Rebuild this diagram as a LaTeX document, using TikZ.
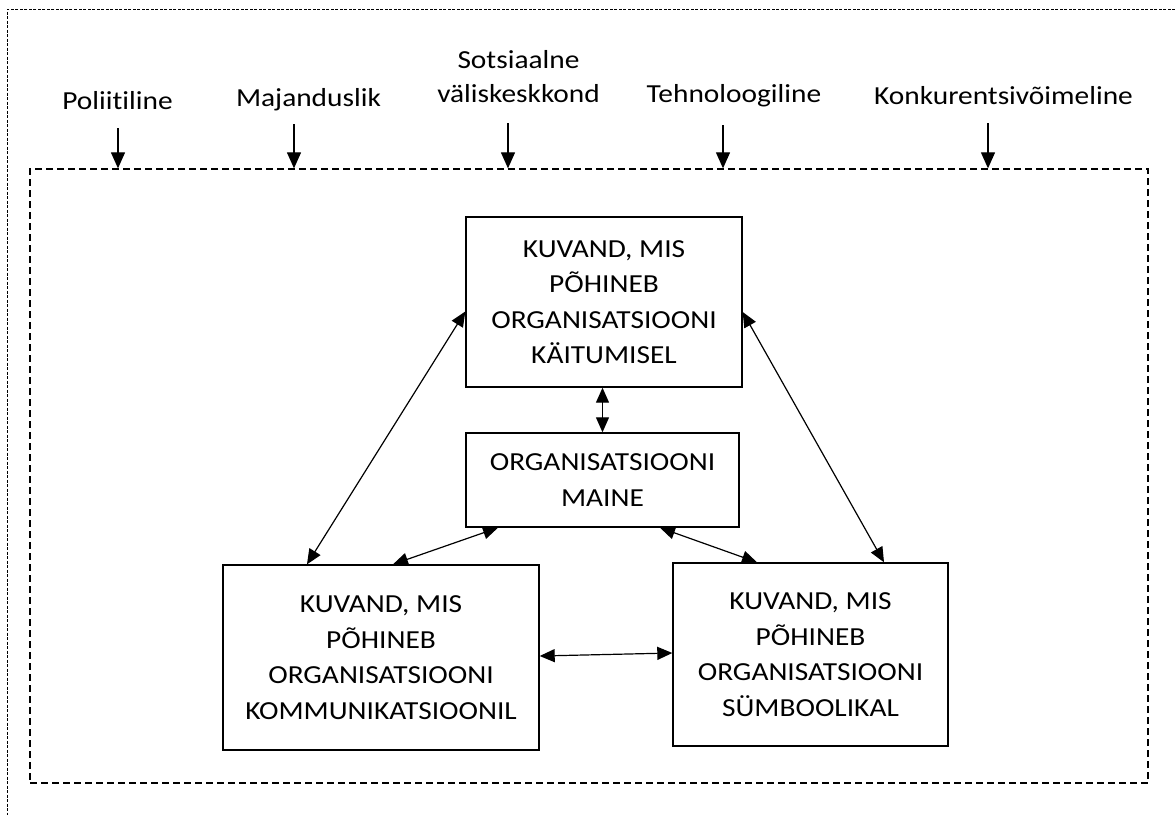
\documentclass[tikz,border=0pt]{standalone}
\usepackage{fontspec}
\setmainfont{Carlito}[FakeStretch=1.13,Ligatures={NoCommon,NoContextual,NoRare},RawFeature={-liga;-clig;-calt;-dlig}]
\usetikzlibrary{arrows.meta}
\begin{document}
\begin{tikzpicture}[x=1pt,y=-1pt,
  box/.style={draw,line width=1.4pt,inner sep=0pt,align=center,font=\fontsize{26}{35.5}\selectfont},
  lab/.style={anchor=base,inner sep=0pt,align=center,font=\fontsize{26}{34}\selectfont},
  link/.style={{Triangle[length=15pt,width=13pt]}-{Triangle[length=15pt,width=13pt]},line width=1.2pt},
  down/.style={-{Triangle[length=16pt,width=14pt]},line width=1.2pt},
  envbox/.style={draw,line width=1.3pt,dash pattern=on 7pt off 4pt,inner sep=0pt},
  outerline/.style={line width=1pt,dash pattern=on 3pt off 1.5pt}]
\useasboundingbox (0,0) rectangle (1175,815);
% outer frame (only top and left visible)
\draw[outerline] (1175,9) -- (7.5,9) -- (7.5,815);
% environment frame
\node[envbox,minimum width=1118pt,minimum height=614pt] (env) at (589,476) {};
% top labels
\node[lab] (pol) at (117.5,109) {Poliitiline};
\node[lab] (maj) at (308.5,106) {Majanduslik};
\node[lab] (sot) at (518.5,102) {Sotsiaalne\\väliskeskkond};
\node[lab] (teh) at (734,102) {Tehnoloogiline};
\node[lab] (kon) at (1003.5,104) {Konkurentsivõimeline};
\coordinate (s1) at (118,128);
\coordinate (s2) at (294,124);
\coordinate (s3) at (508,123);
\coordinate (s4) at (723,125);
\coordinate (s5) at (988,123);
\foreach \s in {s1,s2,s3,s4,s5}{\draw[down] (\s) -- (\s |- env.north);}
% boxes
\node[box,minimum width=276pt,minimum height=170pt] (A) at (604,302)
  {KUVAND, MIS\\PÕHINEB\\ORGANISATSIOONI\\KÄITUMISEL};
\node[box,minimum width=273pt,minimum height=94pt] (M) at (602.5,480)
  {ORGANISATSIOONI\\MAINE};
\node[box,minimum width=316pt,minimum height=185pt] (L) at (381,657.5)
  {KUVAND, MIS\\PÕHINEB\\ORGANISATSIOONI\\KOMMUNIKATSIOONIL};
\node[box,minimum width=275pt,minimum height=183pt] (R) at (810.5,654.5)
  {KUVAND, MIS\\PÕHINEB\\ORGANISATSIOONI\\SÜMBOOLIKAL};
% connectors
\draw[link] (A.south -| M.north) -- (M.north);
\draw[link] ([yshift=-9.5pt]A.west) -- ([xshift=-74pt]L.north);
\draw[link] ([yshift=-10pt]A.east) -- ([xshift=73.5pt]R.north);
\draw[link] ([xshift=-104.5pt]M.south) -- ([xshift=12pt]L.north);
\draw[link] ([xshift=57.5pt]M.south) -- ([xshift=-53.5pt]R.north);
\draw[link] ([yshift=1.5pt]L.east) -- ([yshift=1.5pt]R.west);
\end{tikzpicture}
\end{document}
